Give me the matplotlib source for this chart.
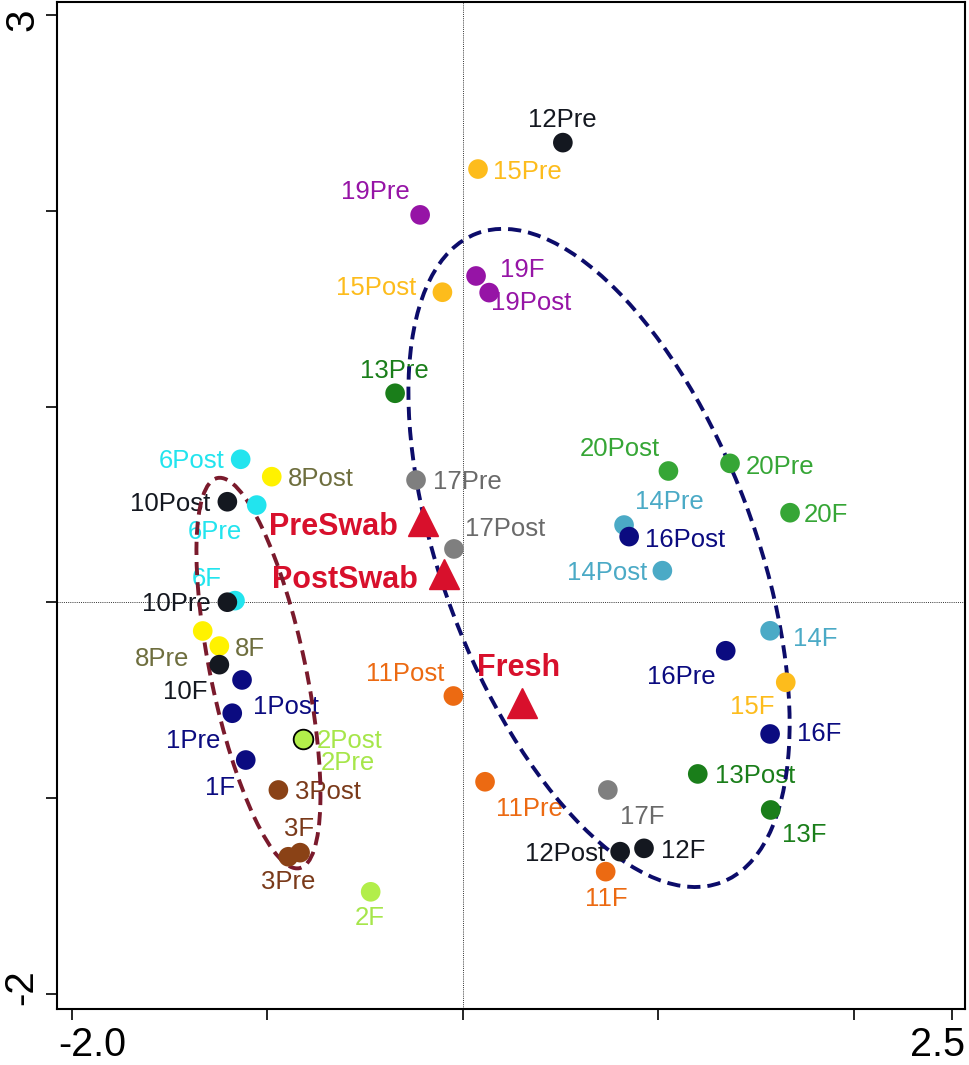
import re
import matplotlib.pyplot as plt
from matplotlib.patches import Ellipse

plt.rcParams['font.family'] = ['Liberation Sans', 'DejaVu Sans']

# sample scores on the first two ordination axes
samples = ['6Post', '8Post', '10Post', '6Pre', '6F', '10Pre', '8Pre', '8F', '10F',
           '1Post', '1Pre', '2Pre', '2Post', '1F', '3Post', '3F', '3Pre', '2F',
           '11Post', '17Pre', '17Post', '12Pre', '15Pre', '19Pre', '19F', '19Post',
           '15Post', '13Pre', '20Post', '20Pre', '20F', '14Pre', '16Post', '14Post',
           '16Pre', '14F', '15F', '16F', '13Post', '13F', '11Pre', '17F', '12Post',
           '12F', '11F']
axis1 = [-1.136, -0.977, -1.204, -1.054, -1.165, -1.204, -1.330, -1.245, -1.245,
         -1.129, -1.179, -0.815, -0.818, -1.110, -0.943, -0.832, -0.892, -0.471,
         -0.048, -0.239, -0.045, 0.512, 0.078, -0.218, 0.068, 0.135,
         -0.104, -0.346, 1.052, 1.367, 1.674, 0.825, 0.851, 1.021,
         1.345, 1.572, 1.652, 1.572, 1.202, 1.575, 0.114, 0.742, 0.805,
         0.927, 0.731]
axis2 = [0.731, 0.642, 0.514, 0.497, 0.009, 0.001, -0.146, -0.223, -0.318,
         -0.396, -0.566, -0.703, -0.699, -0.805, -0.958, -1.278, -1.299, -1.478,
         -0.478, 0.625, 0.273, 2.348, 2.213, 1.979, 1.667, 1.582,
         1.584, 1.068, 0.671, 0.710, 0.458, 0.395, 0.336, 0.162,
         -0.247, -0.145, -0.408, -0.672, -0.876, -1.060, -0.916, -0.958, -1.273,
         -1.256, -1.375]

# treatment centroids
treatments = ['PreSwab', 'PostSwab', 'Fresh']
treat_axis1 = [-0.204, -0.095, 0.301]
treat_axis2 = [0.417, 0.147, -0.512]

# group ellipses: centre x, centre y, semi-axis a, semi-axis b, angle (deg)
ellipse_x = [-1.045, 0.697]
ellipse_y = [-0.361, 0.227]
ellipse_a = [1.018, 1.771]
ellipse_b = [0.243, 0.799]
ellipse_angle = [101.9, 110.7]
ellipse_colors = ['#7A1A2C', '#0C0C6A']

marker_colors = {1: '#0B0B80', 2: '#B2EE4A', 3: '#8A4216', 6: '#22E4EE', 8: '#FFF200',
                 10: '#141820', 11: '#EC6A12', 12: '#141820', 13: '#1A7E1A',
                 14: '#4BAAC6', 15: '#FDBC1C', 16: '#0B0B80', 17: '#7F7F7F',
                 19: '#9614A6', 20: '#36A636'}
text_colors = dict(marker_colors)
text_colors.update({2: '#A6E64A', 3: '#7A3A1A', 8: '#6E6E3E', 17: '#6A6A6A'})
red = '#D8102C'

# label placement: (alignment, dx px, dy px) relative to the point
label_place = {
    '6Post': ('right', -16, -9), '8Post': ('left', 16, -9), '10Post': ('right', -17, -9),
    '6Pre': ('left', -69, -34), '6F': ('left', -43, 15), '10Pre': ('right', -17, -9),
    '8Pre': ('left', -68, -35), '8F': ('left', 16, -10), '10F': ('left', -56, -34),
    '1Post': ('left', 11, -34), '1Pre': ('right', -12, -35), '2Post': ('left', 14, -9),
    '2Pre': ('left', 17, -30), '1F': ('right', -11, -35), '3Post': ('left', 17, -9),
    '3F': ('left', -16, 17), '3Pre': ('left', -27, -32), '2F': ('left', -16, -33),
    '11Post': ('right', -9, 15), '17Pre': ('left', 17, -9), '17Post': ('left', 11, 13),
    '12Pre': ('left', -35, 16), '15Pre': ('left', 15, -10), '19Pre': ('right', -10, 16),
    '19F': ('left', 24, -1), '19Post': ('left', 2, -17), '15Post': ('right', -26, -3),
    '13Pre': ('left', -35, 15), '20Post': ('right', -9, 15), '20Pre': ('left', 16, -11),
    '20F': ('left', 14, -9), '14Pre': ('left', 11, 16), '16Post': ('left', 16, -10),
    '14Post': ('right', -15, -9), '16Pre': ('right', -10, -33), '14F': ('left', 23, -15),
    '15F': ('right', -11, -32), '16F': ('left', 27, -7), '13Post': ('left', 17, -9),
    '13F': ('left', 11, -32), '11Pre': ('left', 11, -34), '17F': ('left', 12, -34),
    '12Post': ('right', -15, -9), '12F': ('left', 17, -10), '11F': ('left', -21, -34),
}
treat_place = {'PreSwab': ('right', -25, -14), 'PostSwab': ('right', -26, -14),
               'Fresh': ('left', -45, 27)}

fig = plt.figure(figsize=(9.69, 10.65), dpi=100)
ax = fig.add_axes([0.0591, 0.0523, 0.9368, 0.9458])
ax.set_xlim(-2.074, 2.569)
ax.set_ylim(-2.078, 3.066)

ax.axhline(0, color='#333333', lw=0.7, ls=(0, (1, 1.2)), zorder=1)
ax.axvline(0, color='#333333', lw=0.7, ls=(0, (1, 1.2)), zorder=1)

for cx, cy, a, b, ang, col in zip(ellipse_x, ellipse_y, ellipse_a, ellipse_b,
                                  ellipse_angle, ellipse_colors):
    ax.add_patch(Ellipse((cx, cy), 2 * a, 2 * b, angle=ang, fill=False,
                         edgecolor=col, lw=2.8, ls=(0, (3.4, 1.8)), zorder=4))

for name, x, y in zip(samples, axis1, axis2):
    subj = int(re.match(r'\d+', name).group())
    edge = 'black' if name == '2Post' else 'none'
    ax.scatter(x, y, s=200, color=marker_colors[subj], edgecolors=edge,
               linewidths=1.3, zorder=5)
    ha, dx, dy = label_place[name]
    ax.annotate(name, (x, y), xytext=(dx, dy), textcoords='offset pixels',
                ha=ha, va='baseline', fontsize=18.5, color=text_colors[subj], zorder=3)

for name, x, y in zip(treatments, treat_axis1, treat_axis2):
    ax.plot(x, y, marker='^', ms=21, color=red, ls='none', zorder=5)
    ha, dx, dy = treat_place[name]
    ax.annotate(name, (x, y), xytext=(dx, dy), textcoords='offset pixels',
                ha=ha, va='baseline', fontsize=22, fontweight='bold', color=red, zorder=3)

ax.set_xticks([-2, -1, 0, 1, 2, 2.5])
ax.set_yticks([-2, -1, 0, 1, 2, 3])
ax.tick_params(direction='out', length=8, width=1.2, labelbottom=False, labelleft=False)
for sp in ax.spines.values():
    sp.set_linewidth(1.5)

# end labels of the axes
ax.annotate('-2.0', (0, 0), xycoords='axes fraction', xytext=(1, -55),
            textcoords='offset pixels', ha='left', va='bottom', fontsize=28.5)
ax.annotate('2.5', (1, 0), xycoords='axes fraction', xytext=(0, -55),
            textcoords='offset pixels', ha='right', va='bottom', fontsize=28.5)
ax.annotate('3', (0, 1), xycoords='axes fraction', xytext=(-24, -6),
            textcoords='offset pixels', ha='right', va='baseline', fontsize=29,
            rotation=90, rotation_mode='anchor')
ax.annotate('-2', (0, 0), xycoords='axes fraction', xytext=(-25, 4),
            textcoords='offset pixels', ha='left', va='baseline', fontsize=29,
            rotation=90, rotation_mode='anchor')

fig.savefig('out.png', dpi=100)
